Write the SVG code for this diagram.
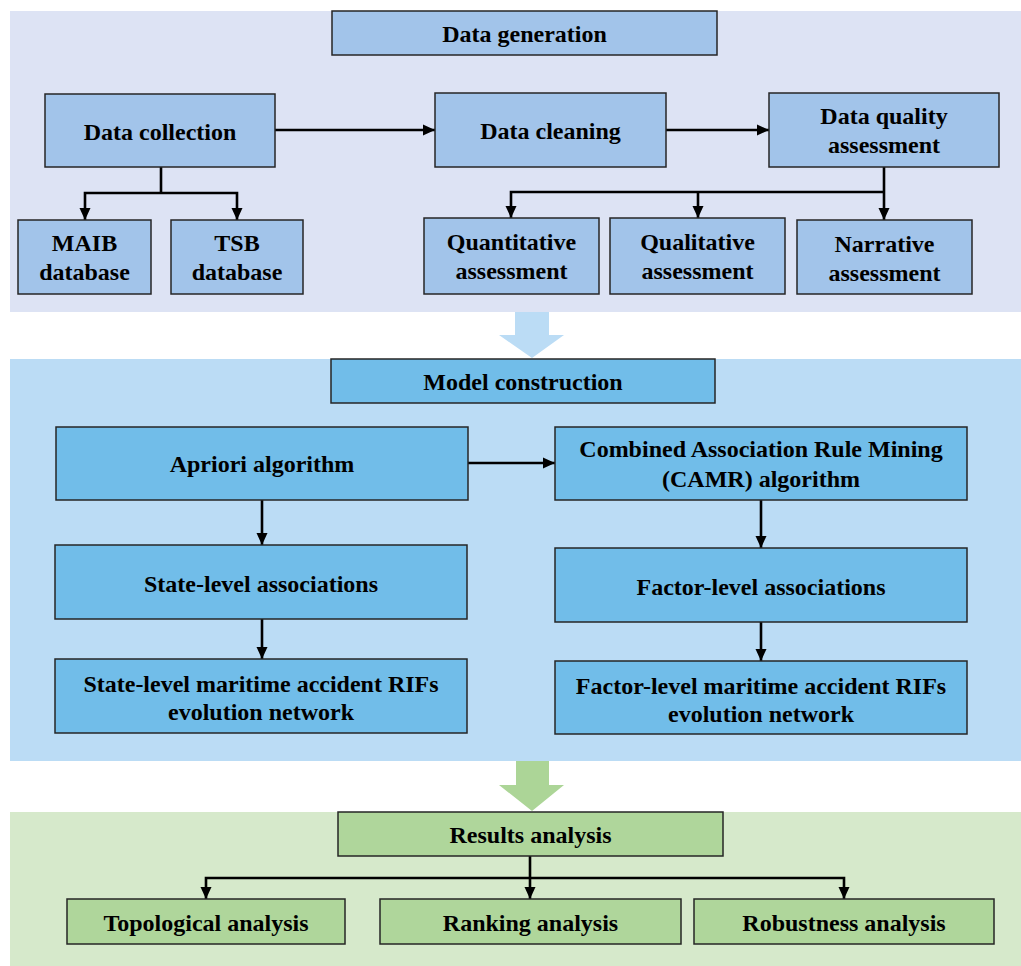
<svg xmlns="http://www.w3.org/2000/svg" width="1021" height="966" viewBox="0 0 1021 966">
<defs>
<marker id="ah" markerUnits="userSpaceOnUse" markerWidth="12" markerHeight="12" refX="12" refY="6" orient="auto">
<path d="M0,0.5 L12,6 L0,11.5 z" fill="#000"/>
</marker>
<style>
text{font-family:"Liberation Serif","Times New Roman",serif;font-weight:bold;font-size:24px;fill:#000;text-anchor:middle}
.b1{fill:#a2c4ea;stroke:#262626;stroke-width:1.5}
.b2{fill:#71bde9;stroke:#262626;stroke-width:1.5}
.b3{fill:#afd69b;stroke:#262626;stroke-width:1.5}
.c{fill:none;stroke:#000;stroke-width:2.6}
.ca{fill:none;stroke:#000;stroke-width:2.6;marker-end:url(#ah)}
</style>
</defs>
<rect width="1021" height="966" fill="#fff"/>
<g id="panels">
<rect x="10" y="11" width="1011" height="301" fill="#dde3f4"/>
<rect x="10" y="359" width="1011" height="402" fill="#bbdcf5"/>
<rect x="10" y="812" width="1011" height="154" fill="#d6e9cb"/>
<polygon points="515,312 549,312 549,335 564,335 532,358 499,335 515,335" fill="#bbdcf5"/>
<polygon points="516,761 549,761 549,785 564,785 532,811 499,785 516,785" fill="#acd597"/>
</g>
<g id="connectors">
<line class="ca" x1="275" y1="130" x2="435" y2="130"/>
<line class="ca" x1="666" y1="130" x2="769" y2="130"/>
<polyline class="c" points="161,167 161,193"/>
<polyline class="ca" points="161,193 85,193 85,220"/>
<polyline class="ca" points="161,193 237,193 237,220"/>
<polyline class="ca" points="884,167 884,220"/>
<polyline class="ca" points="884,192 511,192 511,218"/>
<polyline class="ca" points="698,192 698,218"/>
<line class="ca" x1="468" y1="463" x2="555" y2="463"/>
<line class="ca" x1="262" y1="500" x2="262" y2="545"/>
<line class="ca" x1="262" y1="619" x2="262" y2="659"/>
<line class="ca" x1="761" y1="500" x2="761" y2="548"/>
<line class="ca" x1="761" y1="622" x2="761" y2="661"/>
<polyline class="c" points="530,856 530,878"/>
<polyline class="ca" points="530,878 206,878 206,899"/>
<polyline class="ca" points="530,878 844,878 844,899"/>
<polyline class="ca" points="530,878 530,899"/>
</g>
<g id="data-generation"><rect class="b1" x="332" y="11" width="385" height="44"/><text x="524.5" y="42">Data generation</text></g>
<g id="data-collection"><rect class="b1" x="45" y="94" width="230" height="73"/><text x="160" y="140">Data collection</text></g>
<g id="data-cleaning"><rect class="b1" x="435" y="93" width="231" height="74"/><text x="550.5" y="139">Data cleaning</text></g>
<g id="data-quality"><rect class="b1" x="769" y="93" width="230" height="74"/><text x="884" y="124">Data quality</text><text x="884" y="153">assessment</text></g>
<g id="maib"><rect class="b1" x="18" y="220" width="133" height="74"/><text x="84.5" y="251">MAIB</text><text x="84.5" y="280">database</text></g>
<g id="tsb"><rect class="b1" x="171" y="220" width="132" height="74"/><text x="237" y="251">TSB</text><text x="237" y="280">database</text></g>
<g id="quantitative"><rect class="b1" x="424" y="218" width="175" height="76"/><text x="511.5" y="250">Quantitative</text><text x="511.5" y="279">assessment</text></g>
<g id="qualitative"><rect class="b1" x="610" y="218" width="175" height="76"/><text x="697.5" y="250">Qualitative</text><text x="697.5" y="279">assessment</text></g>
<g id="narrative"><rect class="b1" x="797" y="220" width="175" height="74"/><text x="884.5" y="252">Narrative</text><text x="884.5" y="281">assessment</text></g>
<g id="model-construction"><rect class="b2" x="331" y="359" width="384" height="44"/><text x="523" y="390">Model construction</text></g>
<g id="apriori"><rect class="b2" x="56" y="427" width="412" height="73"/><text x="262" y="472">Apriori algorithm</text></g>
<g id="camr"><rect class="b2" x="555" y="427" width="412" height="73"/><text x="761" y="457">Combined Association Rule Mining</text><text x="761" y="487">(CAMR) algorithm</text></g>
<g id="state-assoc"><rect class="b2" x="55" y="545" width="412" height="74"/><text x="261" y="592">State-level associations</text></g>
<g id="state-network"><rect class="b2" x="55" y="659" width="412" height="74"/><text x="261" y="692">State-level maritime accident RIFs</text><text x="261" y="720">evolution network</text></g>
<g id="factor-assoc"><rect class="b2" x="555" y="548" width="412" height="74"/><text x="761" y="595">Factor-level associations</text></g>
<g id="factor-network"><rect class="b2" x="555" y="661" width="412" height="73"/><text x="761" y="694">Factor-level maritime accident RIFs</text><text x="761" y="722">evolution network</text></g>
<g id="results-analysis"><rect class="b3" x="338" y="812" width="385" height="44"/><text x="530.5" y="843">Results analysis</text></g>
<g id="topological"><rect class="b3" x="67" y="899" width="278" height="45"/><text x="206" y="931">Topological analysis</text></g>
<g id="ranking"><rect class="b3" x="380" y="899" width="301" height="45"/><text x="530.5" y="931">Ranking analysis</text></g>
<g id="robustness"><rect class="b3" x="694" y="899" width="300" height="45"/><text x="844" y="931">Robustness analysis</text></g>
</svg>
